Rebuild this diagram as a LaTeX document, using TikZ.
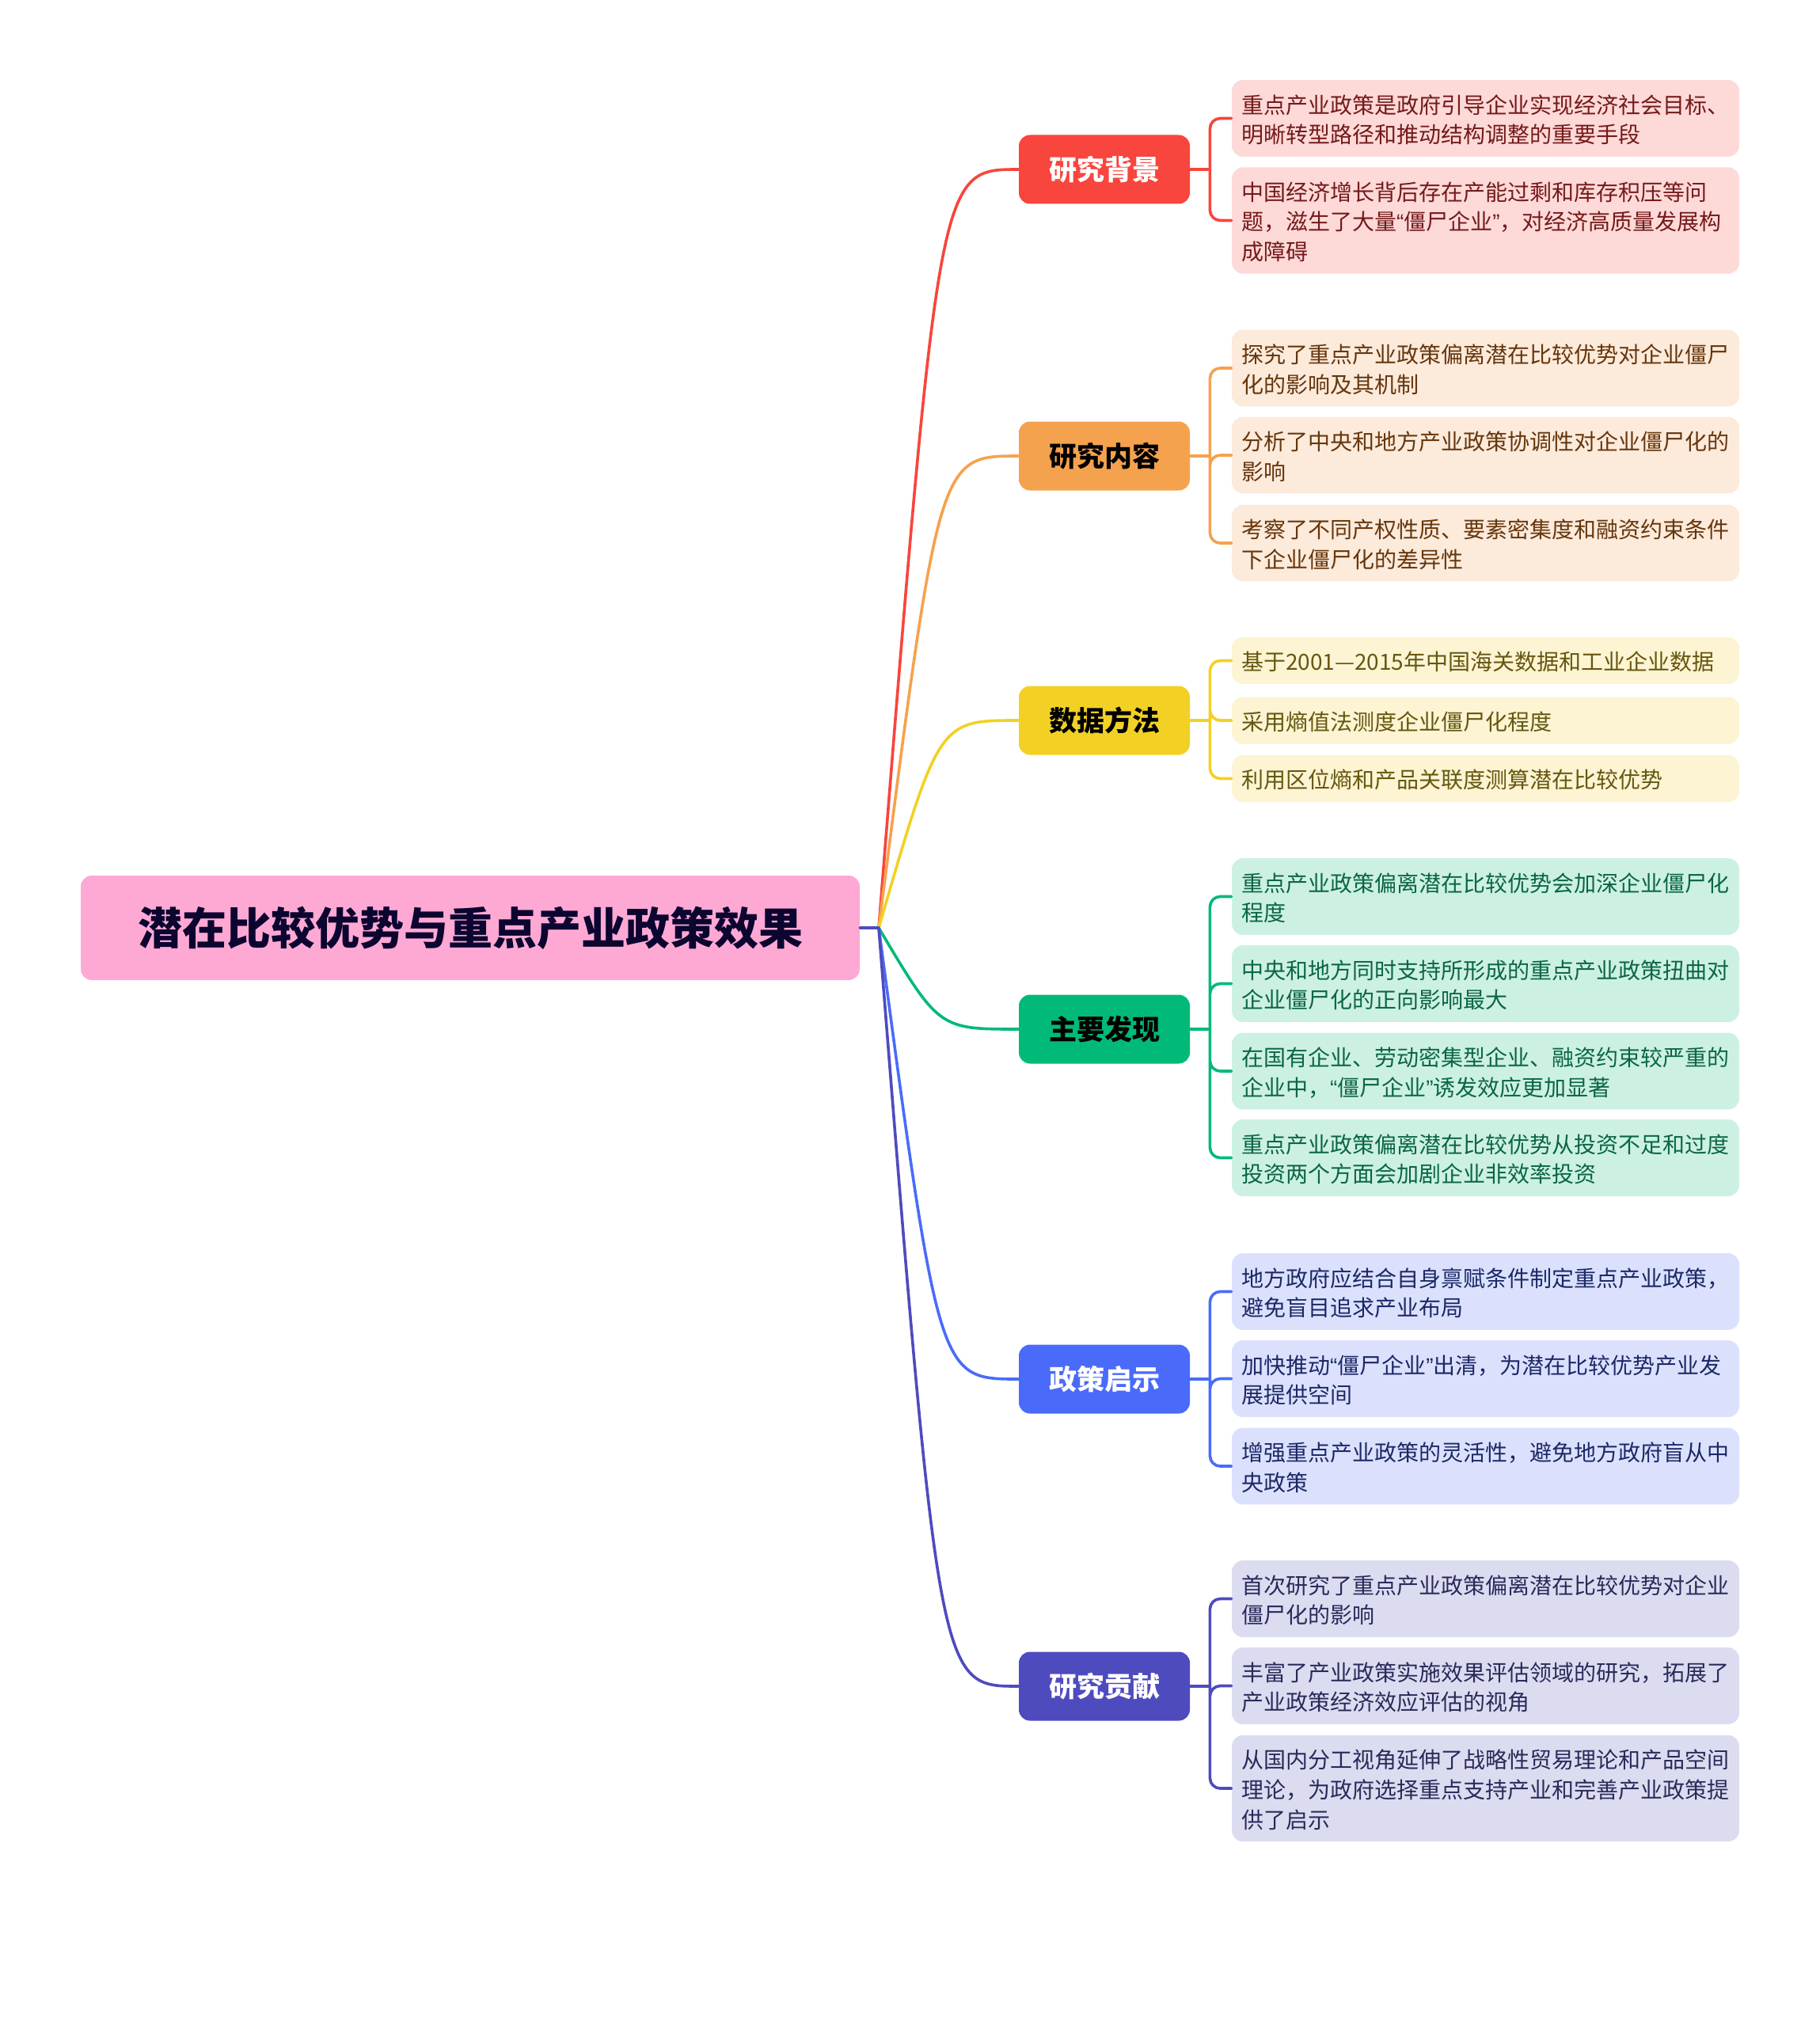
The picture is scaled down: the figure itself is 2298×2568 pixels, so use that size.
\documentclass[tikz,border=0pt]{standalone}
\usepackage{fontspec}
\setmainfont{Noto Sans CJK SC}
\newfontfamily\latina{Liberation Sans}
\usetikzlibrary{calc}

\definecolor{rosa}{HTML}{FEA9D4}
\definecolor{notte}{HTML}{0B0530}
\definecolor{rossoR}{HTML}{F8453D}
\definecolor{rossoF}{HTML}{FDD9D8}
\definecolor{rossoT}{HTML}{741A1A}
\definecolor{aranR}{HTML}{F5A24E}
\definecolor{aranF}{HTML}{FCEADB}
\definecolor{aranT}{HTML}{66360C}
\definecolor{gialR}{HTML}{F2D124}
\definecolor{gialF}{HTML}{FCF4D2}
\definecolor{gialT}{HTML}{665610}
\definecolor{verdR}{HTML}{02BA78}
\definecolor{verdF}{HTML}{CCF1E3}
\definecolor{verdT}{HTML}{0B6642}
\definecolor{bluR}{HTML}{4A6BFA}
\definecolor{bluF}{HTML}{DBE1FD}
\definecolor{bluT}{HTML}{1C2866}
\definecolor{violR}{HTML}{4E4BBF}
\definecolor{violF}{HTML}{DCDCF1}
\definecolor{violT}{HTML}{2B295A}

% puntelli per le righe delle foglie (testo un po' piu' in basso)
\newcommand{\supra}{\rule{0pt}{15.6pt}}
\newcommand{\infra}{\rule[-3.2pt]{0pt}{3.2pt}}
% virgolette strette, come nel disegno
\newcommand{\virg}[1]{{\latina “}#1{\latina ”}}

\begin{document}
\begin{tikzpicture}[x=0.5pt,y=-0.5pt,line join=round,line cap=round,
    radice/.style={rounded corners=7pt,fill=rosa,text=notte,inner sep=0pt,
      minimum width=492pt,minimum height=66pt,font=\fontsize{28}{34}\selectfont\bfseries},
    ramo/.style={rounded corners=7pt,inner sep=0pt,minimum width=108pt,
      minimum height=43.5pt,font=\fontsize{17.5}{21}\selectfont\bfseries},
    foglia/.style={rounded corners=7pt,text width=308.5pt,inner xsep=6pt,inner ysep=5.4pt,
      align=left,font=\fontsize{14}{18.8}\selectfont,
      execute at begin node=\supra,execute at end node=\infra},
    arco/.style={line width=1.8pt},
    forca/.style={line width=1.8pt,rounded corners=6.5pt}]

  \useasboundingbox (0,0) rectangle (2298,2568);

  % ============================ radice della mappa ============================
  \node[radice] (rad) at (594,1172) {潜在比较优势与重点产业政策效果};
  \coordinate (J) at (1110,1172);   % punto da cui partono i rami

  % ================================ i sei rami ================================
  \node[ramo,fill=rossoR,text=white] (b1) at (1395, 214) {研究背景};
  \node[ramo,fill=aranR,text=black]  (b2) at (1395, 576) {研究内容};
  \node[ramo,fill=gialR,text=black]  (b3) at (1395, 910) {数据方法};
  \node[ramo,fill=verdR,text=black]  (b4) at (1395,1300) {主要发现};
  \node[ramo,fill=bluR,text=white]   (b5) at (1395,1742) {政策启示};
  \node[ramo,fill=violR,text=white]  (b6) at (1395,2130) {研究贡献};

  \draw[arco,rossoR] (rad.east) -- (J) .. controls (1186, 214) .. (b1.west);
  \draw[arco,aranR]  (rad.east) -- (J) .. controls (1186, 576) .. (b2.west);
  \draw[arco,gialR]  (rad.east) -- (J) .. controls (1186, 910) .. (b3.west);
  \draw[arco,verdR]  (rad.east) -- (J) .. controls (1186,1300) .. (b4.west);
  \draw[arco,bluR]   (rad.east) -- (J) .. controls (1186,1742) .. (b5.west);
  \draw[arco,violR]  (rad.east) -- (J) .. controls (1186,2130) .. (b6.west);

  % ========================= foglie: 研究背景 ================================
  \begin{scope}[every node/.append style={foglia,fill=rossoF,text=rossoT}]
    \node (f11) at (1876.5, 149.5) {重点产业政策是政府引导企业实现经济社会目标、\\明晰转型路径和推动结构调整的重要手段};
    \node (f12) at (1876.5, 278.5) {中国经济增长背后存在产能过剩和库存积压等问\\题，滋生了大量\virg{僵尸企业}，对经济高质量发展构\\成障碍};
  \end{scope}
  \draw[arco,rossoR] (b1.east) -- ++(25,0) coordinate (g1);
  \draw[forca,rossoR] (g1) |- (f11.west)  (g1) |- (f12.west);

  % ========================= foglie: 研究内容 ================================
  \begin{scope}[every node/.append style={foglia,fill=aranF,text=aranT}]
    \node (f21) at (1876.5, 465) {探究了重点产业政策偏离潜在比较优势对企业僵尸\\化的影响及其机制};
    \node (f22) at (1876.5, 575) {分析了中央和地方产业政策协调性对企业僵尸化的\\影响};
    \node (f23) at (1876.5, 686) {考察了不同产权性质、要素密集度和融资约束条件\\下企业僵尸化的差异性};
  \end{scope}
  \draw[arco,aranR] (b2.east) -- ++(25,0) coordinate (g2);
  \draw[forca,aranR] (g2) |- (f21.west)  (g2) |- (f22.west)  (g2) |- (f23.west);

  % ========================= foglie: 数据方法 ================================
  \begin{scope}[every node/.append style={foglia,fill=gialF,text=gialT}]
    \node (f31) at (1876.5, 834.5) {基于2001—2015年中国海关数据和工业企业数据};
    \node (f32) at (1876.5, 910)   {采用熵值法测度企业僵尸化程度};
    \node (f33) at (1876.5, 983.5) {利用区位熵和产品关联度测算潜在比较优势};
  \end{scope}
  \draw[arco,gialR] (b3.east) -- ++(25,0) coordinate (g3);
  \draw[forca,gialR] (g3) |- (f31.west)  (g3) |- (f32.west)  (g3) |- (f33.west);

  % ========================= foglie: 主要发现 ================================
  \begin{scope}[every node/.append style={foglia,fill=verdF,text=verdT}]
    \node (f41) at (1876.5,1132.5) {重点产业政策偏离潜在比较优势会加深企业僵尸化\\程度};
    \node (f42) at (1876.5,1242.5) {中央和地方同时支持所形成的重点产业政策扭曲对\\企业僵尸化的正向影响最大};
    \node (f43) at (1876.5,1353)   {在国有企业、劳动密集型企业、融资约束较严重的\\企业中，\virg{僵尸企业}诱发效应更加显著};
    \node (f44) at (1876.5,1462.5) {重点产业政策偏离潜在比较优势从投资不足和过度\\投资两个方面会加剧企业非效率投资};
  \end{scope}
  \draw[arco,verdR] (b4.east) -- ++(25,0) coordinate (g4);
  \draw[forca,verdR] (g4) |- (f41.west)  (g4) |- (f42.west)
                     (g4) |- (f43.west)  (g4) |- (f44.west);

  % ========================= foglie: 政策启示 ================================
  \begin{scope}[every node/.append style={foglia,fill=bluF,text=bluT}]
    \node (f51) at (1876.5,1631.5) {地方政府应结合自身禀赋条件制定重点产业政策，\\避免盲目追求产业布局};
    \node (f52) at (1876.5,1741.5) {加快推动\virg{僵尸企业}出清，为潜在比较优势产业发\\展提供空间};
    \node (f53) at (1876.5,1852)   {增强重点产业政策的灵活性，避免地方政府盲从中\\央政策};
  \end{scope}
  \draw[arco,bluR] (b5.east) -- ++(25,0) coordinate (g5);
  \draw[forca,bluR] (g5) |- (f51.west)  (g5) |- (f52.west)  (g5) |- (f53.west);

  % ========================= foglie: 研究贡献 ================================
  \begin{scope}[every node/.append style={foglia,fill=violF,text=violT}]
    \node (f61) at (1876.5,2019.5) {首次研究了重点产业政策偏离潜在比较优势对企业\\僵尸化的影响};
    \node (f62) at (1876.5,2129.5) {丰富了产业政策实施效果评估领域的研究，拓展了\\产业政策经济效应评估的视角};
    \node (f63) at (1876.5,2259)   {从国内分工视角延伸了战略性贸易理论和产品空间\\理论，为政府选择重点支持产业和完善产业政策提\\供了启示};
  \end{scope}
  \draw[arco,violR] (b6.east) -- ++(25,0) coordinate (g6);
  \draw[forca,violR] (g6) |- (f61.west)  (g6) |- (f62.west)  (g6) |- (f63.west);

\end{tikzpicture}
\end{document}
